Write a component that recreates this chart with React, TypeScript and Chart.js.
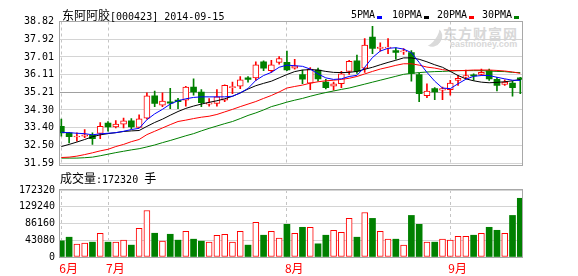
import React, { useEffect, useRef } from 'react';
import { Chart, registerables } from 'chart.js';

Chart.register(...registerables);

// ---------- data ----------
const stockName = '东阿阿胶';
const stockCodeDate = '[000423] 2014-09-15';

const dates = [
  '2014-06-23', '2014-06-24', '2014-06-25', '2014-06-26', '2014-06-27', '2014-06-30',
  '2014-07-01', '2014-07-02', '2014-07-03', '2014-07-04', '2014-07-07', '2014-07-08',
  '2014-07-09', '2014-07-10', '2014-07-11', '2014-07-14', '2014-07-15', '2014-07-16',
  '2014-07-17', '2014-07-18', '2014-07-21', '2014-07-22', '2014-07-23', '2014-07-24',
  '2014-07-25', '2014-07-28', '2014-07-29', '2014-07-30', '2014-07-31',
  '2014-08-01', '2014-08-04', '2014-08-05', '2014-08-06', '2014-08-07', '2014-08-08',
  '2014-08-11', '2014-08-12', '2014-08-13', '2014-08-14', '2014-08-15', '2014-08-18',
  '2014-08-19', '2014-08-20', '2014-08-21', '2014-08-22', '2014-08-25', '2014-08-26',
  '2014-08-27', '2014-08-28', '2014-08-29',
  '2014-09-01', '2014-09-02', '2014-09-03', '2014-09-04', '2014-09-05', '2014-09-09',
  '2014-09-10', '2014-09-11', '2014-09-12', '2014-09-15',
];

const opens = [
  33.46, 33.13, 32.92, 32.96, 33.01, 33.10, 33.63, 33.43, 33.58, 33.75,
  33.41, 33.88, 35.02, 34.55, 34.72, 34.80, 34.80, 35.47, 35.22, 34.60,
  34.63, 34.80, 35.44, 35.51, 35.94, 35.94, 36.76, 36.31, 36.73, 36.73,
  36.44, 36.11, 35.67, 36.34, 35.72, 35.51, 35.64, 36.27, 36.81, 36.44,
  38.02, 37.44, 37.46, 37.34, 37.27, 37.23, 36.11, 35.03, 35.39, 35.31,
  35.34, 35.81, 35.97, 36.07, 36.11, 36.31, 35.87, 35.61, 35.67, 35.94,
];
const highs = [
  33.83, 33.16, 33.13, 33.30, 33.13, 33.66, 33.70, 33.76, 33.88, 33.86,
  34.05, 35.17, 35.27, 35.17, 35.41, 34.89, 35.51, 35.89, 35.34, 34.88,
  35.34, 35.58, 35.72, 36.01, 36.01, 36.76, 36.81, 36.84, 37.03, 37.31,
  36.89, 36.34, 36.47, 36.44, 35.87, 35.72, 36.27, 36.84, 37.11, 37.95,
  38.57, 37.73, 37.95, 37.48, 37.44, 37.34, 36.17, 35.64, 35.44, 35.47,
  35.81, 36.06, 36.34, 36.14, 36.39, 36.39, 35.97, 35.84, 35.77, 35.97,
];
const lows = [
  32.96, 32.62, 32.71, 32.88, 32.54, 32.83, 33.21, 33.38, 33.38, 33.33,
  33.38, 33.83, 34.47, 34.47, 34.37, 34.37, 34.50, 35.05, 34.47, 34.50,
  34.50, 34.72, 35.13, 35.39, 35.72, 35.81, 36.31, 36.22, 36.64, 36.31,
  36.39, 35.64, 35.34, 35.77, 35.37, 35.31, 35.44, 36.11, 36.17, 36.22,
  37.18, 37.31, 37.18, 36.89, 37.14, 35.77, 34.72, 34.93, 34.83, 34.83,
  35.05, 35.56, 35.89, 35.81, 36.06, 35.81, 35.27, 35.56, 35.00, 35.13,
];
const closes = [
  33.13, 32.93, 32.95, 33.03, 32.83, 33.46, 33.43, 33.58, 33.75, 33.43,
  33.85, 35.02, 34.63, 34.75, 34.65, 34.72, 35.47, 35.22, 34.67, 34.67,
  34.97, 35.56, 35.50, 35.84, 35.86, 36.61, 36.44, 36.61, 36.93, 36.34,
  36.56, 35.87, 36.39, 35.89, 35.44, 35.64, 36.14, 36.78, 36.27, 37.61,
  37.44, 37.51, 37.51, 37.24, 37.31, 36.17, 35.13, 35.27, 35.22, 35.39,
  35.67, 35.92, 36.06, 36.04, 36.22, 35.89, 35.56, 35.72, 35.44, 35.86,
];

const volumes = [
  41600, 50900, 33100, 35600, 38200, 61100, 38200, 38200, 43300, 30500,
  73800, 119600, 61100, 40700, 58500, 43300, 66200, 45800, 40700, 38200,
  56000, 58500, 38200, 66200, 30500, 89100, 56000, 66200, 48400, 84000,
  61100, 76400, 76400, 33900, 56000, 68700, 63600, 99300, 50900, 114500,
  99300, 66200, 45800, 45800, 30500, 106900, 84000, 38200, 38200, 45800,
  43300, 53400, 53400, 56000, 61100, 76400, 68700, 61100, 106900, 151000,
];

const ma5 = [
  33.16, 33.14, 33.11, 33.09, 33.03, 33.08, 33.11, 33.14, 33.21, 33.30,
  33.36, 33.80, 34.10, 34.33, 34.60, 34.77, 34.87, 34.94, 34.97, 34.97,
  34.97, 34.97, 35.00, 35.17, 35.40, 35.81, 36.06, 36.22, 36.48, 36.59,
  36.56, 36.53, 36.39, 36.14, 35.94, 35.86, 35.89, 36.01, 36.07, 36.48,
  36.98, 37.31, 37.45, 37.48, 37.41, 37.23, 36.73, 36.22, 35.77, 35.42,
  35.39, 35.64, 35.87, 36.02, 36.06, 36.06, 35.97, 35.89, 35.82, 35.81,
];
const ma10 = [
  32.43, 32.54, 32.66, 32.79, 32.93, 33.03, 33.09, 33.14, 33.20, 33.23,
  33.25, 33.46, 33.66, 33.83, 34.03, 34.22, 34.38, 34.50, 34.60, 34.69,
  34.77, 34.87, 35.00, 35.17, 35.37, 35.54, 35.66, 35.77, 35.94, 36.11,
  36.26, 36.34, 36.36, 36.34, 36.27, 36.22, 36.21, 36.22, 36.27, 36.38,
  36.48, 36.61, 36.73, 36.84, 36.96, 36.96, 36.89, 36.76, 36.61, 36.48,
  36.27, 36.06, 35.89, 35.79, 35.72, 35.69, 35.71, 35.74, 35.79, 35.86,
];
const ma20 = [
  31.87, 31.89, 31.94, 32.02, 32.11, 32.21, 32.29, 32.43, 32.54, 32.68,
  32.79, 33.04, 33.21, 33.38, 33.55, 33.71, 33.78, 33.86, 33.93, 33.98,
  34.07, 34.20, 34.33, 34.47, 34.60, 34.73, 34.89, 35.04, 35.22, 35.42,
  35.50, 35.57, 35.67, 35.74, 35.79, 35.82, 35.86, 35.92, 36.01, 36.14,
  36.27, 36.39, 36.48, 36.58, 36.66, 36.66, 36.59, 36.49, 36.44, 36.36,
  36.31, 36.31, 36.32, 36.34, 36.34, 36.34, 36.32, 36.29, 36.24, 36.17,
];
const ma30 = [
  31.84, 31.84, 31.84, 31.86, 31.89, 31.96, 32.04, 32.12, 32.19, 32.26,
  32.32, 32.41, 32.51, 32.63, 32.74, 32.86, 32.98, 33.09, 33.23, 33.36,
  33.48, 33.60, 33.71, 33.86, 34.02, 34.15, 34.30, 34.47, 34.58, 34.70,
  34.80, 34.89, 35.00, 35.10, 35.19, 35.27, 35.35, 35.42, 35.52, 35.62,
  35.72, 35.82, 35.92, 36.02, 36.12, 36.17, 36.21, 36.24, 36.26, 36.27,
  36.29, 36.31, 36.31, 36.31, 36.31, 36.29, 36.27, 36.26, 36.22, 36.21,
];

const priceTickLabels = ['31.59', '32.50', '33.40', '34.30', '35.21', '36.11', '37.01', '37.92', '38.82'];
const midPriceTick = '35.21';
const volumeTickLabels = ['0', '43080', '86160', '129240', '172320'];
const volumeHeaderLabel = '成交量';
const volumeHeaderValue = '172320';
const volumeHeaderUnit = '手';
const maNames = ['5PMA', '10PMA', '20PMA', '30PMA'];
const maColors = ['#0000ff', '#000000', '#ff0000', '#008000'];
const watermarkCn = '东方财富网';
const watermarkEn = 'eastmoney.com';

// ---------- styles ----------
const RED = '#ff0000';
const GREEN = '#008000';
const GRID = '#d4d4d4';
const FRAME = '#a8a8a8';
const DASH = '#c4c4c4';
const MONO = "'DejaVu Sans Mono', monospace";
const CJK = "'Noto Sans CJK SC', sans-serif";
const X_MIN = -0.3;
const X_MAX = 59.22;

const idx = dates.map((_, i) => i);
const isUp = (i: number) => closes[i] >= opens[i];
const monthStarts = idx.filter((i) => i === 0 || dates[i].slice(5, 7) !== dates[i - 1].slice(5, 7));
const monthText = (i: number) => `${parseInt(dates[i].slice(5, 7), 10)}月`;

function xScale(showLabels: boolean, height: number) {
  return {
    type: 'linear',
    min: X_MIN,
    max: X_MAX,
    offset: false,
    afterBuildTicks: (s: any) => {
      s.ticks = monthStarts.map((v) => ({ value: v }));
    },
    afterFit: (s: any) => {
      s.height = height;
    },
    ticks: {
      display: showLabels,
      autoSkip: false,
      maxRotation: 0,
      align: 'start',
      labelOffset: -2,
      padding: 4,
      color: RED,
      font: { family: CJK, size: 12 },
      callback: (v: number) => (monthStarts.includes(v) ? monthText(v) : ''),
    },
    grid: { color: DASH, lineWidth: 1, drawTicks: false, offset: false },
    border: { display: false, dash: [3, 3] },
  };
}

export default function App() {
  const priceRef = useRef<HTMLCanvasElement>(null);
  const volRef = useRef<HTMLCanvasElement>(null);

  useEffect(() => {
    const lineDs = (name: string, vals: number[], color: string) => ({
      type: 'line',
      label: name,
      data: idx.map((i) => ({ x: i, y: vals[i] })),
      borderColor: color,
      backgroundColor: color,
      borderWidth: 1,
      pointRadius: 0,
      tension: 0,
      fill: false,
      order: 0,
    });

    const price = new Chart(priceRef.current as HTMLCanvasElement, {
      type: 'bar',
      data: {
        datasets: [
          lineDs(maNames[0], ma5, maColors[0]),
          lineDs(maNames[1], ma10, maColors[1]),
          lineDs(maNames[2], ma20, maColors[2]),
          lineDs(maNames[3], ma30, maColors[3]),
          {
            type: 'bar',
            label: 'body',
            data: idx.map((i) => ({ x: i, y: [opens[i], closes[i]] })),
            backgroundColor: idx.map((i) => (isUp(i) ? '#ffffff' : GREEN)),
            borderColor: idx.map((i) => (isUp(i) ? RED : GREEN)),
            borderWidth: idx.map((i) => (isUp(i) ? 1 : 0)),
            borderSkipped: false,
            barThickness: 6,
            minBarLength: 1,
            grouped: false,
            order: 5,
          },
          {
            type: 'bar',
            label: 'wick',
            data: idx.map((i) => ({ x: i, y: [lows[i], highs[i]] })),
            backgroundColor: idx.map((i) => (isUp(i) ? RED : GREEN)),
            borderWidth: 0,
            barThickness: 1,
            grouped: false,
            order: 6,
          },
        ] as any,
      },
      options: {
        responsive: false,
        animation: false,
        devicePixelRatio: 1,
        layout: { padding: { top: 21.5, right: 56, bottom: 8.5, left: 0 } },
        plugins: { legend: { display: false }, tooltip: { enabled: false }, title: { display: false } },
        scales: {
          x: xScale(false, 0) as any,
          y: {
            type: 'linear',
            min: parseFloat(priceTickLabels[0]),
            max: parseFloat(priceTickLabels[priceTickLabels.length - 1]),
            afterBuildTicks: (s: any) => {
              s.ticks = priceTickLabels.map((t) => ({ value: parseFloat(t) }));
            },
            afterFit: (s: any) => {
              s.width = 59;
            },
            ticks: {
              autoSkip: false,
              padding: 5,
              color: '#000',
              font: { family: MONO, size: 10 },
              callback: (_v: number, i: number) => priceTickLabels[i],
            },
            grid: {
              color: (ctx: any) => (ctx.tick && ctx.tick.value === parseFloat(midPriceTick) ? '#a0a0a0' : GRID),
              drawTicks: false,
            },
            border: { display: false },
          },
        },
      },
    });

    const volume = new Chart(volRef.current as HTMLCanvasElement, {
      type: 'bar',
      data: {
        datasets: [
          {
            label: volumeHeaderLabel,
            data: idx.map((i) => ({ x: i, y: volumes[i] })),
            backgroundColor: idx.map((i) => (isUp(i) ? '#ffffff' : GREEN)),
            borderColor: idx.map((i) => (isUp(i) ? RED : GREEN)),
            borderWidth: idx.map((i) => (isUp(i) ? 1 : 0)),
            borderSkipped: false,
            barThickness: 6,
            grouped: false,
          },
        ] as any,
      },
      options: {
        responsive: false,
        animation: false,
        devicePixelRatio: 1,
        layout: { padding: { top: 9.5, right: 56, bottom: 0, left: 0 } },
        plugins: { legend: { display: false }, tooltip: { enabled: false } },
        scales: {
          x: xScale(true, 19) as any,
          y: {
            type: 'linear',
            min: parseFloat(volumeTickLabels[0]),
            max: parseFloat(volumeTickLabels[volumeTickLabels.length - 1]),
            afterBuildTicks: (s: any) => {
              s.ticks = volumeTickLabels.map((t) => ({ value: parseFloat(t) }));
            },
            afterFit: (s: any) => {
              s.width = 59;
            },
            ticks: {
              autoSkip: false,
              padding: 4,
              color: '#000',
              font: { family: MONO, size: 10 },
              callback: (_v: number, i: number) => volumeTickLabels[i],
            },
            grid: { color: GRID, drawTicks: false },
            border: { display: false },
          },
        },
      },
    });

    return () => {
      price.destroy();
      volume.destroy();
    };
  }, []);

  const legendLefts = [351, 392, 437, 482];

  return (
    <div
      style={{
        position: 'fixed',
        left: 0,
        top: 0,
        width: 578,
        height: 276,
        background: '#fff',
        overflow: 'hidden',
      }}
    >
      {/* watermark */}
      <div
        style={{
          position: 'absolute',
          left: 424,
          top: 27,
          width: 12,
          height: 20,
          borderRight: '6px solid #dadada',
          borderRadius: '50%',
          transform: 'rotate(35deg)',
        }}
      />
      <div
        style={{
          position: 'absolute',
          left: 443,
          top: 26,
          fontFamily: CJK,
          fontWeight: 700,
          fontSize: 14,
          lineHeight: '15px',
          letterSpacing: 1,
          color: '#d8d8d8',
          whiteSpace: 'nowrap',
        }}
      >
        {watermarkCn}
      </div>
      <div
        style={{
          position: 'absolute',
          left: 450,
          top: 40,
          fontFamily: "'Liberation Sans', sans-serif",
          fontWeight: 700,
          fontSize: 9,
          lineHeight: '9px',
          color: '#d8d8d8',
          whiteSpace: 'nowrap',
        }}
      >
        {watermarkEn}
      </div>

      <canvas
        ref={priceRef}
        width={578}
        height={174}
        style={{ position: 'absolute', left: 0, top: 0, width: 578, height: 174 }}
      />
      <canvas
        ref={volRef}
        width={578}
        height={96}
        style={{ position: 'absolute', left: 0, top: 180, width: 578, height: 96 }}
      />

      {/* frames */}
      <div
        style={{
          position: 'absolute',
          left: 59,
          top: 21,
          width: 464,
          height: 145,
          boxSizing: 'border-box',
          border: `1px solid ${FRAME}`,
          pointerEvents: 'none',
        }}
      />
      <div
        style={{
          position: 'absolute',
          left: 59,
          top: 189,
          width: 464,
          height: 69,
          boxSizing: 'border-box',
          border: `1px solid ${FRAME}`,
          pointerEvents: 'none',
        }}
      />

      {/* title */}
      <div
        style={{
          position: 'absolute',
          left: 62,
          top: 8,
          lineHeight: '14px',
          whiteSpace: 'nowrap',
          color: '#000',
        }}
      >
        <span style={{ fontFamily: CJK, fontSize: 12 }}>{stockName}</span>
        <span style={{ fontFamily: MONO, fontSize: 10 }}>{stockCodeDate}</span>
      </div>

      {/* legend */}
      {maNames.map((n, k) => (
        <div
          key={n}
          style={{
            position: 'absolute',
            left: legendLefts[k],
            top: 8,
            height: 14,
            display: 'flex',
            alignItems: 'flex-start',
            whiteSpace: 'nowrap',
          }}
        >
          <span style={{ fontFamily: MONO, fontSize: 10, lineHeight: '14px', color: '#000' }}>{n}</span>
          <span
            style={{
              display: 'inline-block',
              width: 5,
              height: 3,
              marginLeft: 2,
              marginTop: 8,
              background: maColors[k],
            }}
          />
        </div>
      ))}

      {/* volume header */}
      <div
        style={{
          position: 'absolute',
          left: 60,
          top: 171,
          lineHeight: '14px',
          whiteSpace: 'nowrap',
          color: '#000',
        }}
      >
        <span style={{ fontFamily: CJK, fontSize: 12 }}>{volumeHeaderLabel}</span>
        <span style={{ fontFamily: MONO, fontSize: 10 }}>{`:${volumeHeaderValue} `}</span>
        <span style={{ fontFamily: CJK, fontSize: 12 }}>{volumeHeaderUnit}</span>
      </div>
    </div>
  );
}
